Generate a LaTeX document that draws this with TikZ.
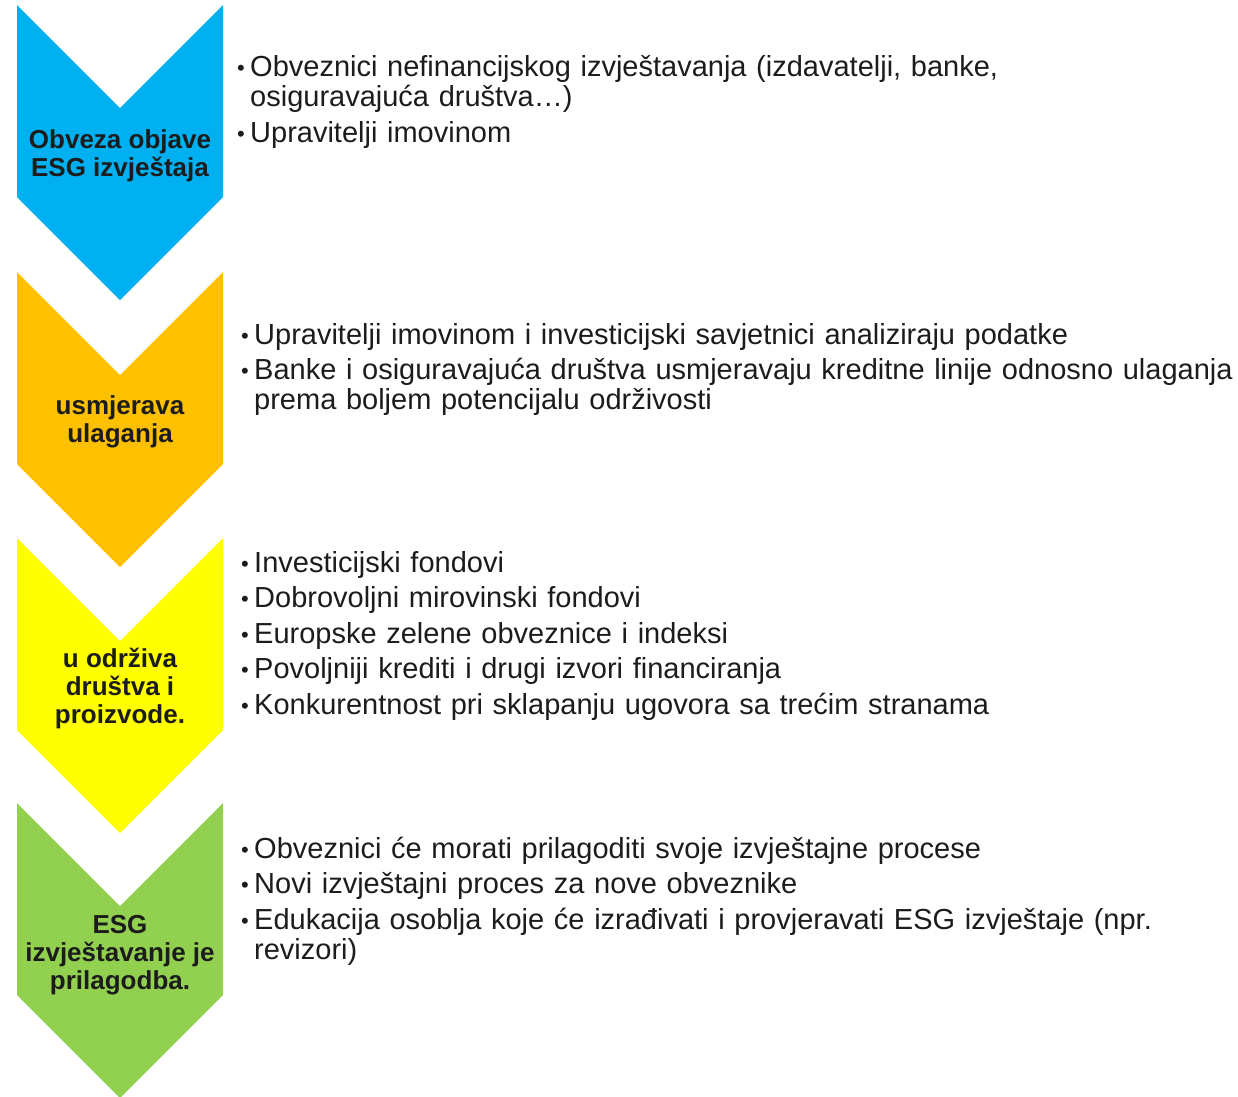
\documentclass[tikz,border=0pt]{standalone}
\usepackage{fontspec}
\setmainfont{Liberation Sans}
\usetikzlibrary{positioning}

\definecolor{esgblue}{HTML}{00B0F0}
\definecolor{esgorange}{HTML}{FFC000}
\definecolor{esgyellow}{HTML}{FFFF00}
\definecolor{esggreen}{HTML}{92D050}
\definecolor{inkdark}{HTML}{1C1C1C}

% one bullet paragraph, continuation lines hang under the text
\newcommand{\bul}[1]{\hangindent=13pt\hangafter=1\noindent\makebox[13pt][l]{\raisebox{1pt}{\fontsize{22}{22}\selectfont\textbullet}}#1\par}

\begin{document}
\begin{tikzpicture}[
    x=1pt,y=-1pt,
    lbl/.style={align=center,text=inkdark,inner sep=0pt,font=\bfseries\fontsize{26}{28}\selectfont},
    items/.style={anchor=base west,inner sep=0pt,text width=1000pt,align=left,text=inkdark,font=\fontsize{29}{30}\selectfont}
  ]
  \useasboundingbox (0,0) rectangle (1238,1096);

  % chevrons down the left side
  \foreach \t/\col in {5/esgblue,272/esgorange,538/esgyellow,803/esggreen}
    \fill[\col] (17,\t) -- (120,{\t+103}) -- (223,\t) -- (223,{\t+192})
      -- (120,{\t+295}) -- (17,{\t+192}) -- cycle;

  \node[lbl] (obveza) at (120,156) {Obveza objave\\ESG izvještaja};
  \node[lbl] (usmjerava) at (120,422) {usmjerava\\ulaganja};
  \node[lbl] (odrziva) at (120,688) {u održiva\\društva i\\proizvode.};
  \node[lbl] (prilagodba) at (120,955) {ESG\\izvještavanje je\\prilagodba.};

  % bullet lists on the right
  \node[items] (obvezaTxt) at (237,76) {\setlength{\parskip}{6pt}%
    \bul{Obveznici nefinancijskog izvještavanja (izdavatelji, banke,\newline osiguravajuća društva…)}%
    \bul{Upravitelji imovinom}};
  \node[items] (usmjeravaTxt) at (241,344) {\setlength{\parskip}{5pt}%
    \bul{Upravitelji imovinom i investicijski savjetnici analiziraju podatke}%
    \bul{Banke i osiguravajuća društva usmjeravaju kreditne linije odnosno ulaganja\newline prema boljem potencijalu održivosti}};
  \node[items] (odrzivaTxt) at (241,572) {\setlength{\parskip}{5.5pt}%
    \bul{Investicijski fondovi}%
    \bul{Dobrovoljni mirovinski fondovi}%
    \bul{Europske zelene obveznice i indeksi}%
    \bul{Povoljniji krediti i drugi izvori financiranja}%
    \bul{Konkurentnost pri sklapanju ugovora sa trećim stranama}};
  \node[items] (prilagodbaTxt) at (241,858) {\setlength{\parskip}{5.5pt}%
    \bul{Obveznici će morati prilagoditi svoje izvještajne procese}%
    \bul{Novi izvještajni proces za nove obveznike}%
    \bul{Edukacija osoblja koje će izrađivati i provjeravati ESG izvještaje (npr.\newline revizori)}};
\end{tikzpicture}
\end{document}
